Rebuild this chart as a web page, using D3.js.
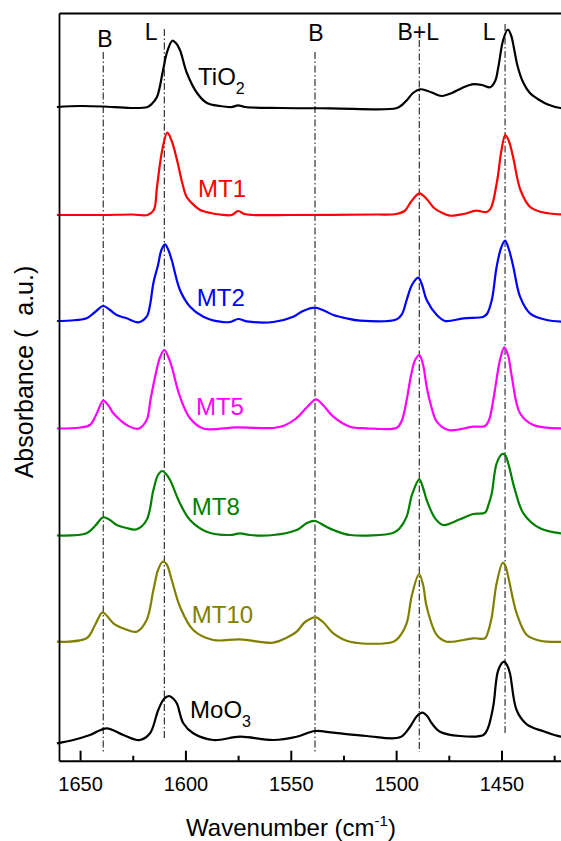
<!DOCTYPE html>
<html>
<head>
<meta charset="utf-8">
<script src="https://cdn.jsdelivr.net/npm/d3@7"></script>
<style>
  html, body { margin: 0; padding: 0; background: #fff; }
  svg { display: block; }
  text { font-family: "Liberation Sans", Arial, sans-serif; }
</style>
</head>
<body>
<div id="chart"></div>
<script>
// ---------------- DATA ----------------
// [wavenumber (cm-1), absorbance above series baseline (a.u.)]
const TiO2 = [[1661,0],[1650,0.01],[1639,0.005],[1626,-0.01],[1618,0],[1616,0.03],[1613.5,0.10],[1610.6,0.37],[1608.7,0.55],[1606.2,0.663],[1604.5,0.64],[1602.6,0.57],[1599.3,0.34],[1594.5,0.14],[1589.8,0.04],[1583.6,0.01],[1578,0],[1575,0.017],[1571.7,0],[1555,-0.01],[1531,-0.013],[1500,-0.013],[1497.2,0.02],[1494.8,0.07],[1492,0.14],[1488.7,0.177],[1485,0.16],[1481.5,0.13],[1478.2,0.11],[1473.5,0.14],[1468.7,0.19],[1464,0.227],[1459.2,0.22],[1455.4,0.197],[1453,0.26],[1451.5,0.40],[1449.2,0.67],[1447,0.775],[1445.5,0.72],[1444,0.58],[1442.5,0.42],[1440,0.26],[1436.5,0.14],[1432,0.07],[1428,0.025],[1422,-0.01],[1419,-0.013]];
const MT1 = [[1661,0],[1650,0],[1639,0],[1625,0.005],[1618,0],[1615,0.05],[1613.5,0.28],[1611,0.65],[1608.6,0.823],[1606.5,0.74],[1604,0.55],[1601.5,0.32],[1599.4,0.18],[1596,0.10],[1593,0.05],[1588,0.02],[1583.6,0.005],[1578,0],[1575,0.04],[1572,0.01],[1568,0],[1550,0],[1510,0.005],[1500,0.01],[1496,0.04],[1493,0.13],[1489,0.217],[1485.5,0.16],[1482,0.07],[1478,0.02],[1474.5,-0.007],[1468,0.01],[1462,0.043],[1457,0.03],[1455,0.07],[1452,0.35],[1450,0.65],[1448.2,0.80],[1446.5,0.74],[1444.5,0.58],[1441,0.25],[1436.5,0.083],[1431,0.03],[1425,0.01],[1419,0.007]];
const MT2 = [[1661,0],[1654.8,0.005],[1646.9,0.027],[1642.9,0.09],[1639,0.15],[1635.8,0.11],[1632.6,0.06],[1627.9,0.027],[1622.4,-0.013],[1618.4,0.043],[1616.8,0.16],[1615.2,0.38],[1613,0.56],[1611.4,0.71],[1609.7,0.767],[1608.1,0.71],[1606.5,0.61],[1602.6,0.31],[1597.8,0.143],[1591.5,0.043],[1583.6,-0.007],[1578.8,-0.01],[1574.9,0.02],[1570.9,-0.003],[1558.3,-0.01],[1548.8,0.043],[1544.2,0.10],[1538.5,0.133],[1533.8,0.10],[1529.8,0.06],[1524.3,0.03],[1517.1,0.003],[1499.7,0.017],[1497.2,0.07],[1495,0.21],[1492.5,0.36],[1489.5,0.433],[1487.7,0.36],[1485.5,0.21],[1480.7,0.06],[1476.8,0],[1468.1,0.027],[1458.6,0.043],[1456.9,0.07],[1454.6,0.21],[1452.3,0.543],[1450.2,0.73],[1448.3,0.803],[1446.4,0.71],[1444.4,0.543],[1441.2,0.243],[1436.5,0.077],[1428.5,0.01],[1419,-0.007]];
const MT5 = [[1661,0],[1650,0.01],[1645.3,0.035],[1642.4,0.135],[1639,0.278],[1636.7,0.235],[1634.2,0.152],[1631,0.085],[1627.9,0.035],[1622.4,-0.002],[1618.4,0.085],[1616.6,0.285],[1614.4,0.518],[1612,0.715],[1610,0.785],[1608.3,0.725],[1606.5,0.618],[1602.6,0.318],[1597.8,0.102],[1591.5,0],[1575.7,0.012],[1558.3,0.005],[1553,0.03],[1547.5,0.10],[1542,0.22],[1538,0.292],[1534.7,0.235],[1529.8,0.118],[1521.9,0.018],[1514,0.002],[1499.7,0.008],[1497.2,0.085],[1495,0.285],[1492.9,0.535],[1491,0.685],[1489,0.735],[1487.2,0.635],[1485.5,0.418],[1483.5,0.235],[1480.7,0.068],[1475.2,-0.015],[1463.4,0.018],[1457.8,0.025],[1455.9,0.085],[1453.9,0.285],[1450.7,0.685],[1448.7,0.812],[1446.9,0.735],[1445.1,0.518],[1441.2,0.152],[1434.9,0.035],[1419,0.002]];
const MT8 = [[1661,0],[1646.9,0.022],[1642.9,0.095],[1639,0.182],[1635.8,0.155],[1632.6,0.105],[1628,0.075],[1623.1,0.062],[1618.4,0.155],[1615.2,0.455],[1613,0.605],[1611,0.645],[1609.2,0.615],[1607.3,0.555],[1602.6,0.322],[1597.8,0.155],[1589.9,0.038],[1578.8,0.005],[1574.1,0.022],[1569.4,0.005],[1558.3,0.005],[1547.2,0.055],[1542.3,0.125],[1538.5,0.145],[1533.8,0.095],[1529.8,0.055],[1521.9,0.005],[1501.3,0.028],[1498.2,0.075],[1495,0.188],[1492.5,0.405],[1489,0.562],[1487.2,0.475],[1485.5,0.355],[1481.5,0.172],[1477.6,0.105],[1469.7,0.162],[1463.4,0.215],[1457.8,0.228],[1456.2,0.305],[1454.6,0.422],[1452.3,0.722],[1449.6,0.815],[1448.3,0.805],[1446.8,0.722],[1443.6,0.455],[1439.6,0.222],[1431.7,0.072],[1419,0.015]];
const MT10 = [[1661,0],[1646.9,0.034],[1642.9,0.167],[1639.4,0.294],[1637.2,0.257],[1634.2,0.184],[1628.7,0.127],[1623.1,0.10],[1618.4,0.217],[1615.2,0.517],[1613,0.717],[1610.8,0.80],[1609,0.777],[1606.5,0.617],[1602.6,0.35],[1596.3,0.117],[1586.8,0.017],[1574.1,0.024],[1558.3,-0.01],[1552,0.04],[1547.2,0.10],[1543.2,0.197],[1538.2,0.244],[1534.7,0.197],[1529.8,0.084],[1521.9,0],[1501.3,0],[1498.2,0.057],[1495,0.184],[1492.5,0.467],[1489.1,0.677],[1487.2,0.567],[1485.5,0.35],[1480.7,0.067],[1476,0],[1463.4,0.034],[1457.8,0.034],[1456.4,0.097],[1454.6,0.25],[1452.3,0.584],[1449.4,0.79],[1448.3,0.767],[1446.8,0.65],[1442.8,0.284],[1438,0.067],[1431.7,0.01],[1419,0]];
const MoO3 = [[1661,0],[1653.2,0.033],[1645.3,0.083],[1637.4,0.15],[1629.5,0.083],[1621.6,0.033],[1616.8,0.10],[1612.9,0.333],[1610.2,0.443],[1607.8,0.473],[1606.1,0.453],[1604.1,0.40],[1601,0.20],[1596.3,0.10],[1586.8,0.033],[1574.1,0.066],[1558.3,0.033],[1547.2,0.066],[1538.5,0.123],[1529.8,0.106],[1514,0.073],[1498.2,0.06],[1493.4,0.166],[1490.1,0.273],[1487.4,0.306],[1485.3,0.273],[1483.1,0.20],[1479.2,0.116],[1469.7,0.073],[1458.6,0.083],[1456.4,0.153],[1453.9,0.37],[1451.5,0.733],[1448.8,0.816],[1447.4,0.783],[1446,0.70],[1442.8,0.33],[1438,0.19],[1430.1,0.12],[1421.8,0.066],[1419,0.06]];

const seriesNames  = ["TiO2","MT1","MT2","MT5","MT8","MT10","MoO3"];
const seriesData   = [TiO2, MT1, MT2, MT5, MT8, MT10, MoO3];
const seriesOffset = [6.537, 5.457, 4.397, 3.322, 2.252, 1.19, 0.174];

const majorTicks = [1650, 1600, 1550, 1500, 1450];
const minorTicks = [1625, 1575, 1525, 1475, 1425];

// reference band positions (cm-1) and labels
const bandPositions = [1639, 1610, 1538.5, 1489, 1448.3];
const bandLabels    = ["B", "L", "B", "B+L", "L"];

// ---------------- STYLE / LAYOUT ----------------
const W = 561, H = 841;
const colors = ["#000000", "#ff0000", "#0000ff", "#ff00ff", "#008000", "#808000", "#000000"];
const labelPos = [[1594.0, 6.757], [1594.0, 5.637], [1594.6, 4.547], [1595.0, 3.457], [1597.0, 2.457], [1597.0, 1.374], [1597.8, 0.43]];
const bandLineTop = [7.087, 7.317, 7.087, 7.207, 7.367];
const bandLineBot = [0.077, 0.207, 0.087, 0.087, 0.277];
const bandLabelPos = [[1638.2, 7.14], [1616.3, 7.207], [1538.1, 7.2], [1489.5, 7.207], [1455.9, 7.207]];

const svg = d3.select("#chart").append("svg").attr("width", W).attr("height", H);

const x = d3.scaleLinear().domain([1660, 1420]).range([59, 564.7]);
const y = d3.scaleLinear().domain([0, 7.477]).range([760.7, 13]);

// reference dash-dot lines
svg.append("g").selectAll("line").data(bandPositions).join("line")
  .attr("x1", d => x(d)).attr("x2", d => x(d))
  .attr("y1", (d, i) => y(bandLineTop[i])).attr("y2", (d, i) => y(bandLineBot[i]))
  .attr("stroke", "#333").attr("stroke-width", 1.2)
  .attr("stroke-dasharray", "7,2.5,1.5,2.5");

// band labels
svg.append("g").selectAll("text").data(bandLabels).join("text")
  .attr("x", (d, i) => x(bandLabelPos[i][0]))
  .attr("y", (d, i) => y(bandLabelPos[i][1]))
  .attr("text-anchor", "middle")
  .attr("font-size", 23).attr("fill", "#000")
  .text(d => d);

// spectra
const line = d3.line().curve(d3.curveCatmullRom.alpha(0.5));
seriesData.forEach((data, i) => {
  line.x(d => x(d[0])).y(d => y(d[1] + seriesOffset[i]));
  svg.append("path").datum(data)
    .attr("d", line)
    .attr("fill", "none")
    .attr("stroke", colors[i])
    .attr("stroke-width", 2.2)
    .attr("stroke-linejoin", "round");
});

// series labels
seriesNames.forEach((name, i) => {
  const t = svg.append("text")
    .attr("x", x(labelPos[i][0])).attr("y", y(labelPos[i][1]))
    .attr("font-size", 24).attr("fill", colors[i]);
  const m = name.match(/^([A-Za-z]+O)(\d)$/);
  if (m) {
    t.append("tspan").text(m[1]);
    t.append("tspan").attr("font-size", 16).attr("dy", 9).text(m[2]);
  } else {
    t.text(name);
  }
});

// axes
const gx = svg.append("g").attr("transform", `translate(0,${y(0)})`)
  .call(d3.axisBottom(x).tickValues(majorTicks).tickSize(-10).tickSizeOuter(0).tickPadding(16).tickFormat(d3.format("d")));
gx.select(".domain").attr("stroke-width", 2);
gx.selectAll(".tick line").attr("stroke-width", 2);
gx.selectAll(".tick text").attr("font-size", 20).attr("font-family", "Liberation Sans, Arial, sans-serif").attr("fill", "#000");

const gxm = svg.append("g").attr("transform", `translate(0,${y(0)})`)
  .call(d3.axisBottom(x).tickValues(minorTicks).tickSize(-5).tickSizeOuter(0).tickFormat(""));
gxm.select(".domain").remove();
gxm.selectAll(".tick line").attr("stroke-width", 2);

const gy = svg.append("g").attr("transform", `translate(${x(1660)},0)`)
  .call(d3.axisLeft(y).tickValues([]).tickSizeOuter(0));
gy.select(".domain").attr("stroke-width", 1.8);

const gt = svg.append("g").attr("transform", `translate(0,${y(7.477)})`)
  .call(d3.axisTop(x).tickValues([]).tickSizeOuter(0));
gt.select(".domain").attr("stroke-width", 1.8);

// axis titles
const xt = svg.append("text")
  .attr("x", 291).attr("y", 836)
  .attr("text-anchor", "middle").attr("font-size", 24).attr("fill", "#000");
xt.append("tspan").text("Wavenumber (cm");
xt.append("tspan").attr("font-size", 15).attr("dy", -10).text("-1");
xt.append("tspan").attr("dy", 10).text(")");

svg.append("text")
  .attr("transform", "translate(33,372) rotate(-90)")
  .attr("text-anchor", "middle").attr("font-size", 25).attr("fill", "#000")
  .style("white-space", "pre")
  .text("Absorbance (  a.u.)");
</script>
</body>
</html>
